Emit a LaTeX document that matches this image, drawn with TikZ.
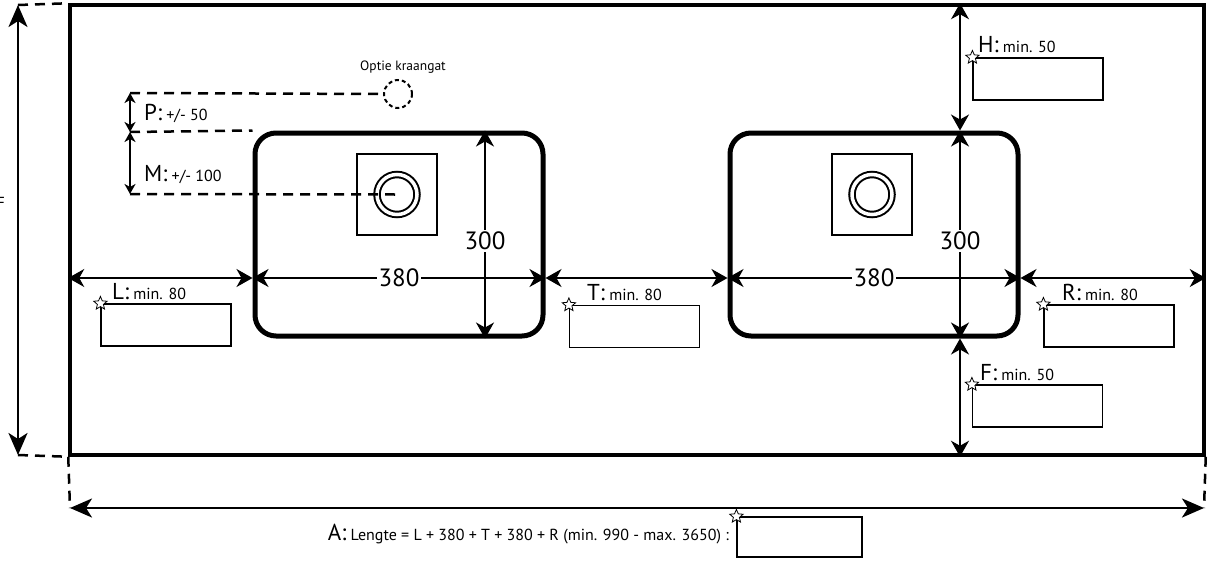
\documentclass[tikz,border=0pt]{standalone}
\usepackage{fontspec}
\setmainfont{PT Sans}
\usetikzlibrary{arrows.meta,positioning,shapes.geometric,calc}

\newcommand{\grootf}{\fontsize{23}{26}\selectfont}
\newcommand{\kleinf}{\fontsize{16}{19}\selectfont}
\newcommand{\maatlabel}[2]{{\grootf #1:} #2}

\tikzset{
	pijl/.style={line width=1.6pt,{Stealth[length=16pt,width=18pt,inset=5pt]}-{Stealth[length=16pt,width=18pt,inset=5pt]}},
	grotepijl/.style={line width=2.5pt,{Stealth[length=22pt,width=19pt,inset=6pt]}-{Stealth[length=22pt,width=19pt,inset=6pt]}},
	kleinepijl/.style={line width=2pt,{Stealth[length=10pt,width=11pt,inset=3pt]}-{Stealth[length=10pt,width=11pt,inset=3pt]}},
	hulplijn/.style={line width=2.5pt,dash pattern=on 10pt off 7pt},
	blad/.style={draw,line width=3.5pt,minimum width=1134pt,minimum height=450pt,inner sep=0pt},
	spoelbak/.style={draw,line width=5pt,rounded corners=21pt,minimum width=288pt,minimum height=203pt,inner sep=0pt},
	kraanplaat/.style={draw,line width=2pt,minimum width=80pt,minimum height=81pt,inner sep=0pt},
	afvoer/.style={circle,draw,line width=2pt,double=white,double distance=3.5pt,minimum size=40pt,inner sep=0pt},
	invulvak/.style={draw,line width=1.2pt,minimum width=130pt,minimum height=42pt,inner sep=0pt},
	sterretje/.style={star,star points=5,star point ratio=2.2,draw,fill=white,line width=0.8pt,minimum size=14pt,inner sep=0pt},
	maatgetal/.style={fill=white,inner sep=2pt,font=\fontsize{25}{28}\selectfont},
	tekst/.style={anchor=base west,inner sep=0pt,font=\kleinf},
}

\begin{document}
\begin{tikzpicture}[x=1pt,y=-1pt]
	\useasboundingbox (0,0) rectangle (1213,563);

	% werkblad en spoelbakken
	\node[blad] (blad) at (637,230) {};
	\node[spoelbak] (bakL) at (399,234.5) {};
	\node[spoelbak] (bakR) at (874,234.5) {};
	\node[kraanplaat] (plaatL) at (397,194.5) {};
	\node[kraanplaat] (plaatR) at (872,194.5) {};
	\node[afvoer] (afvoerL) at (plaatL.center) {};
	\node[afvoer] (afvoerR) at (plaatR.center) {};
	\node[circle,draw,line width=2pt,dash pattern=on 4pt off 3pt,minimum size=28pt,inner sep=0pt] (kraangat) at (398,94) {};
	\node[font=\fontsize{13.5}{15}\selectfont] at (403,67) {Optie kraangat};

	% hulpcoordinaten
	\coordinate (rij) at (0,278);
	\coordinate (links boven) at (18,5);
	\coordinate (links onder) at (18,455);
	\coordinate (onder links) at (70,508);
	\coordinate (onder rechts) at (1204,508);
	\coordinate (p boven) at (130,93);
	\coordinate (p midden) at (130,132);
	\coordinate (p onder) at (130,194);
	\coordinate (hx) at (960,0);

	% maatlijnen horizontaal
	\draw[pijl] (blad.west |- rij) -- (bakL.west |- rij);
	\draw[pijl] (bakL.west |- rij) -- node[maatgetal] {380} (bakL.east |- rij);
	\draw[pijl] (bakL.east |- rij) -- (bakR.west |- rij);
	\draw[pijl] (bakR.west |- rij) -- node[maatgetal] {380} (bakR.east |- rij);
	\draw[pijl] (bakR.east |- rij) -- (blad.east |- rij);

	% maatlijnen verticaal
	\draw[pijl] ($(bakL.north)+(86,0)$) -- node[maatgetal,pos=0.53] {300} ($(bakL.south)+(86,0)$);
	\draw[pijl] (blad.north -| hx) -- (bakR.north -| hx);
	\draw[pijl] (bakR.north -| hx) -- node[maatgetal,pos=0.53] {300} (bakR.south -| hx);
	\draw[pijl] (bakR.south -| hx) -- (blad.south -| hx);

	% totale maten
	\draw[hulplijn] (links boven) -- (blad.north west);
	\draw[hulplijn] (links onder) -- (blad.south west);
	\draw[grotepijl] (links boven) -- (links onder);
	\node[anchor=east,inner sep=0pt,font=\kleinf] at (5,203) {F};
	\draw[hulplijn] (blad.south west) -- (onder links);
	\draw[hulplijn] (blad.south east) -- (onder rechts);
	\draw[grotepijl] (onder links) -- (onder rechts);

	% kraangat maten
	\draw[hulplijn] (p boven) -- (kraangat.west);
	\draw[hulplijn] (p midden) -- (bakL.north west);
	\draw[hulplijn] (p onder) -- (afvoerL.center);
	\draw[kleinepijl] (p boven) -- (p midden);
	\draw[kleinepijl] (p midden) -- (p onder);
	\node[tekst] at (144,120) {\maatlabel{P}{+/- 50}};
	\node[tekst] at (144,181) {\maatlabel{M}{+/- 100}};

	% invulvakken
	\node[invulvak] (vakL) at (166,325) {};
	\node[invulvak] (vakT) at (634.5,326.5) {};
	\node[invulvak] (vakR) at (1109,326) {};
	\node[invulvak] (vakH) at (1038,79) {};
	\node[invulvak] (vakF) at (1037.5,406) {};
	\node[invulvak,minimum width=125pt,minimum height=40pt] (vakA) at (799.5,537) {};
	\foreach \v in {vakL,vakT,vakR,vakH,vakF,vakA}
		\node[sterretje] at (\v.north west) {};

	\node[tekst] at (112,299) {\maatlabel{L}{min. 80}};
	\node[tekst] at (587,300) {\maatlabel{T}{min. 80}};
	\node[tekst] at (1062,300) {\maatlabel{R}{min. 80}};
	\node[tekst] at (978,52) {\maatlabel{H}{min. 50}};
	\node[tekst] at (980,380) {\maatlabel{F}{min. 50}};
	\node[tekst,anchor=base east] at (729,540) {\maatlabel{A}{Lengte = L + 380 + T + 380 + R (min. 990 - max. 3650) :}};
\end{tikzpicture}
\end{document}
